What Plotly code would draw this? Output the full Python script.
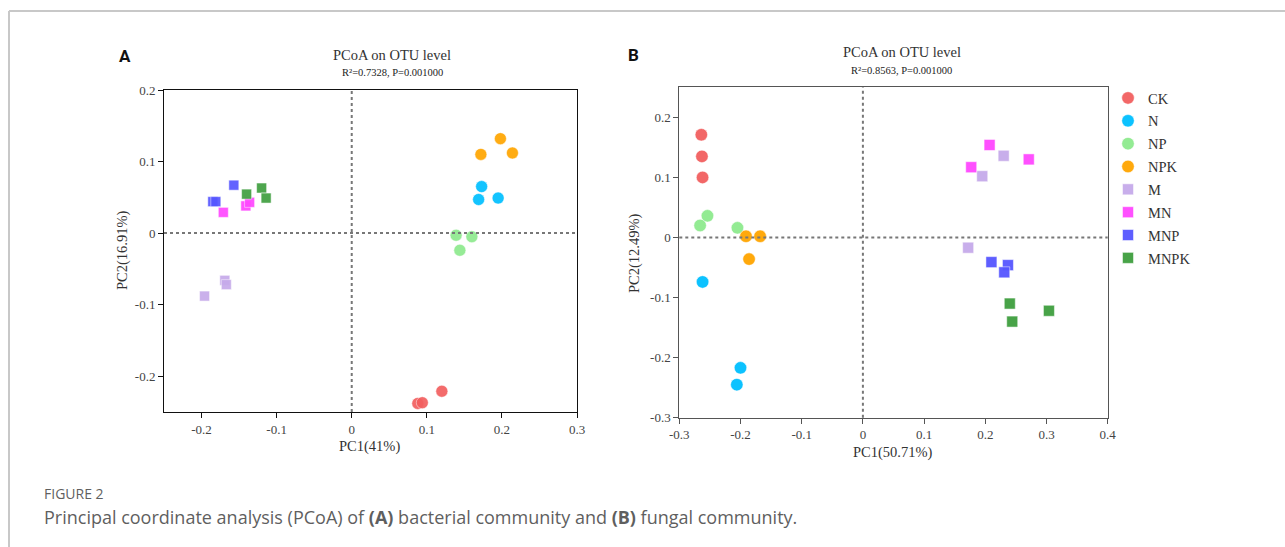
import plotly.graph_objects as go

W, H = 1285, 547

groups = ["CK", "N", "NP", "NPK", "M", "MN", "MNP", "MNPK"]
symbols = ["circle", "circle", "circle", "circle", "square", "square", "square", "square"]
colors = ["#f25f5f", "#00bfff", "#8eea8e", "#ffa500", "#c6aaea", "#ff47ff", "#5656ff", "#3f9f3f"]

# Panel A (bacterial) coordinates, 3 samples per group
a_pc1 = {
    "CK": [0.088, 0.094, 0.120],
    "N": [0.173, 0.169, 0.195],
    "NP": [0.139, 0.160, 0.144],
    "NPK": [0.172, 0.198, 0.214],
    "M": [-0.169, -0.167, -0.196],
    "MN": [-0.171, -0.141, -0.136],
    "MNP": [-0.185, -0.181, -0.157],
    "MNPK": [-0.140, -0.120, -0.114],
}
a_pc2 = {
    "CK": [-0.238, -0.237, -0.221],
    "N": [0.065, 0.047, 0.049],
    "NP": [-0.003, -0.005, -0.024],
    "NPK": [0.110, 0.132, 0.112],
    "M": [-0.066, -0.072, -0.088],
    "MN": [0.029, 0.038, 0.043],
    "MNP": [0.044, 0.044, 0.067],
    "MNPK": [0.0545, 0.063, 0.049],
}

# Panel B (fungal) coordinates
b_pc1 = {
    "CK": [-0.264, -0.263, -0.262],
    "N": [-0.262, -0.200, -0.206],
    "NP": [-0.254, -0.266, -0.205],
    "NPK": [-0.191, -0.168, -0.186],
    "M": [0.230, 0.195, 0.172],
    "MN": [0.207, 0.177, 0.271],
    "MNP": [0.210, 0.237, 0.231],
    "MNPK": [0.240, 0.244, 0.304],
}
b_pc2 = {
    "CK": [0.171, 0.135, 0.100],
    "N": [-0.074, -0.217, -0.245],
    "NP": [0.036, 0.020, 0.016],
    "NPK": [0.002, 0.002, -0.036],
    "M": [0.136, 0.102, -0.017],
    "MN": [0.154, 0.117, 0.130],
    "MNP": [-0.041, -0.046, -0.058],
    "MNPK": [-0.110, -0.140, -0.122],
}

a_title = "PCoA on OTU level"
a_sub = "R²=0.7328, P=0.001000"
b_title = "PCoA on OTU level"
b_sub = "R²=0.8563, P=0.001000"
a_xlabel, a_ylabel = "PC1(41%)", "PC2(16.91%)"
b_xlabel, b_ylabel = "PC1(50.71%)", "PC2(12.49%)"
a_xticks = [-0.2, -0.1, 0, 0.1, 0.2, 0.3]
a_yticks = [-0.2, -0.1, 0, 0.1, 0.2]
b_xticks = [-0.3, -0.2, -0.1, 0, 0.1, 0.2, 0.3, 0.4]
b_yticks = [-0.3, -0.2, -0.1, 0, 0.1, 0.2]


def fx(px):
    return px / W


def fy(py):
    return 1 - py / H


def fmt(v):
    return "0" if v == 0 else ("%g" % v)


SERIF = "Liberation Serif"
fig = go.Figure()

for g, sym, col in zip(groups, symbols, colors):
    sz = 12 if sym == "circle" else 10
    fig.add_trace(go.Scatter(
        x=a_pc1[g], y=a_pc2[g], mode="markers", name=g, showlegend=False,
        xaxis="x", yaxis="y",
        marker=dict(symbol=sym, size=sz, color=col, opacity=0.92,
                    line=dict(width=1, color="rgba(255,255,255,0.5)")),
    ))
for g, sym, col in zip(groups, symbols, colors):
    sz = 12.5 if sym == "circle" else 11
    fig.add_trace(go.Scatter(
        x=b_pc1[g], y=b_pc2[g], mode="markers", name=g, showlegend=True,
        legendgroup=g,
        xaxis="x2", yaxis="y2",
        marker=dict(symbol=sym, size=sz, color=col, opacity=0.95,
                    line=dict(width=1, color="rgba(255,255,255,0.5)")),
    ))

axis_common = dict(showgrid=False, zeroline=False, showline=True, mirror=True,
                   ticks="outside", ticklen=5, tickwidth=1, automargin=False,
                   tickfont=dict(family=SERIF, size=13, color="#444"))

fig.update_layout(
    template="none",
    width=W, height=H,
    margin=dict(l=0, r=0, t=0, b=0, pad=0, autoexpand=False),
    paper_bgcolor="white", plot_bgcolor="white",
    xaxis=dict(domain=[fx(164), fx(577)], range=[-0.25, 0.3], anchor="y",
               tickvals=a_xticks, ticktext=[fmt(v) for v in a_xticks],
               linecolor="#111", tickcolor="#111", **axis_common),
    yaxis=dict(domain=[fy(412), fy(90)], range=[-0.25, 0.2], anchor="x",
               tickvals=a_yticks, ticktext=[fmt(v) for v in a_yticks],
               linecolor="#111", tickcolor="#111", **axis_common),
    xaxis2=dict(domain=[fx(679.3), fx(1107.7)], range=[-0.3, 0.4], anchor="y2",
                tickvals=b_xticks, ticktext=[fmt(v) for v in b_xticks],
                linecolor="#555", tickcolor="#555", **axis_common),
    yaxis2=dict(domain=[fy(417.7), fy(87.3)], range=[-0.3, 0.25], anchor="x2",
                tickvals=b_yticks, ticktext=[fmt(v) for v in b_yticks],
                linecolor="#555", tickcolor="#555", **axis_common),
    showlegend=True,
    legend=dict(x=fx(1108), y=fy(82), xanchor="left", yanchor="top",
                font=dict(family=SERIF, size=14.5, color="#333"),
                tracegroupgap=1, borderwidth=0,
                bgcolor="rgba(0,0,0,0)"),
)

# dotted zero reference lines
for xr, yr in [("x", "y"), ("x2", "y2")]:
    fig.add_shape(type="line", xref=xr, yref=yr + " domain", x0=0, x1=0, y0=0, y1=1,
                  line=dict(color="#777", width=2, dash="dot"))
    fig.add_shape(type="line", xref=xr + " domain", yref=yr, x0=0, x1=1, y0=0, y1=0,
                  line=dict(color="#777", width=2, dash="dot"))

# outer frame lines
fig.add_shape(type="line", xref="paper", yref="paper", x0=fx(9), x1=1, y0=fy(11), y1=fy(11),
              line=dict(color="#c8c8c8", width=2))
fig.add_shape(type="line", xref="paper", yref="paper", x0=fx(9), x1=fx(9), y0=fy(11), y1=0,
              line=dict(color="#c8c8c8", width=2))

ann = []


def add_text(text, px, py, size, family=SERIF, color="#333", xanchor="center", angle=0):
    ann.append(dict(text=text, x=fx(px), y=fy(py), xref="paper", yref="paper",
                    xanchor=xanchor, yanchor="middle", showarrow=False, textangle=angle,
                    font=dict(family=family, size=size, color=color)))


add_text("<b>A</b>", 125, 56, 17, family="Roboto", color="#111")
add_text("<b>B</b>", 633, 55, 17, family="Roboto", color="#111")
add_text(a_title, 392, 55, 14.5)
add_text(a_sub, 392, 73, 10.5, color="#222")
add_text(b_title, 902, 52, 14.5)
add_text(b_sub, 902, 70, 10.5, color="#222")
add_text(a_xlabel, 370, 446, 14.5)
add_text(a_ylabel, 122, 250, 14.5, angle=-90)
add_text(b_xlabel, 893, 452, 14.5)
add_text(b_ylabel, 634, 253, 14.5, angle=-90)
add_text("FIGURE 2", 42, 493, 14, family="Open Sans", color="#5f5f5f", xanchor="left")
add_text("Principal coordinate analysis (PCoA) of <b>(A)</b> bacterial community and <b>(B)</b> fungal community.",
         42, 517, 18, family="Open Sans", color="#5f5f5f", xanchor="left")

fig.update_layout(annotations=ann)

fig.write_html("out.html")
